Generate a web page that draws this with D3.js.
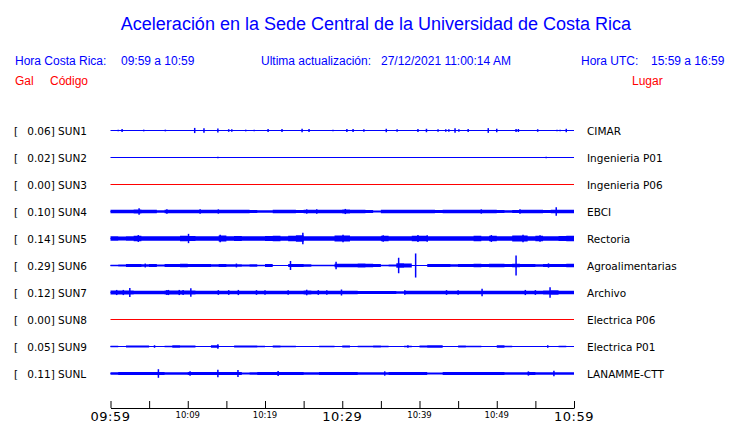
<!DOCTYPE html>
<html><head><meta charset="utf-8">
<script src="https://cdn.jsdelivr.net/npm/d3@7"></script>
<style>body{margin:0;background:#fff}svg{display:block}</style>
</head><body><svg id="c" width="740" height="423"></svg>
<script>
const title = "Aceleración en la Sede Central de la Universidad de Costa Rica";
const headerCR = ["Hora Costa Rica:", "09:59 a 10:59"];
const headerUpd = ["Ultima actualización:", "27/12/2021 11:00:14 AM"];
const headerUTC = ["Hora UTC:", "15:59 a 16:59"];
const colHeads = ["Gal", "Código", "Lugar"];

const codes  = ["SUN1","SUN2","SUN3","SUN4","SUN5","SUN6","SUN7","SUN8","SUN9","SUNL"];
const places = ["CIMAR","Ingenieria P01","Ingenieria P06","EBCI","Rectoria","Agroalimentarias","Archivo","Electrica P06","Electrica P01","LANAMME-CTT"];
const peaks  = [0.06,0.02,0.00,0.10,0.14,0.29,0.12,0.00,0.05,0.11];

// minutes after 09:59
const tickMinutes = [0,5,10,15,20,25,30,35,40,45,50,55,60];
const labelMinutes = [0,10,20,30,40,50,60];
const tickLabels = ["09:59","10:09","10:19","10:29","10:39","10:49","10:59"];
const majorLabels = ["09:59","10:29","10:59"];

// per-minute envelope (half amplitude, Gal)
const envFlat = [0,0,0,0,0,0,0,0,0,0,0,0,0,0,0,0,0,0,0,0,0,0,0,0,0,0,0,0,0,0,0,0,0,0,0,0,0,0,0,0,0,0,0,0,0,0,0,0,0,0,0,0,0,0,0,0,0,0,0,0];
const envSUN4 = [0.038,0.038,0.04,0.045,0.042,0.038,0.03,0.038,0.038,0.04,0.038,0.042,0.042,0.04,0.04,0.038,0.038,0.038,0.032,0.03,0.03,0.038,0.038,0.038,0.036,0.038,0.04,0.038,0.038,0.038,0.045,0.04,0.038,0.036,0.025,0.038,0.038,0.038,0.04,0.038,0.038,0.038,0.036,0.038,0.038,0.038,0.038,0.038,0.04,0.038,0.036,0.03,0.034,0.038,0.038,0.038,0.036,0.04,0.038,0.038];
const envSUN5 = [0.05,0.045,0.055,0.065,0.055,0.05,0.05,0.05,0.052,0.062,0.06,0.052,0.052,0.052,0.07,0.05,0.06,0.05,0.05,0.052,0.06,0.062,0.055,0.062,0.075,0.05,0.05,0.052,0.052,0.072,0.07,0.05,0.05,0.05,0.05,0.062,0.05,0.05,0.05,0.062,0.062,0.055,0.052,0.052,0.052,0.052,0.052,0.062,0.055,0.062,0.05,0.05,0.072,0.07,0.052,0.062,0.052,0.052,0.06,0.062];
const envSUN6 = [0.015,0.025,0.035,0.035,0.03,0.035,0.025,0.035,0.035,0.04,0.035,0.035,0.035,0.03,0.035,0.03,0.03,0.025,0.03,0.02,0.035,0.01,0.01,0.035,0.035,0.03,0.02,0.015,0.02,0.04,0.04,0.04,0.045,0.04,0.035,0.02,0.025,0.05,0.045,0.01,0.01,0.035,0.035,0.035,0.03,0.035,0.035,0.04,0.035,0.04,0.04,0.035,0.04,0.035,0.035,0.03,0.035,0.035,0.035,0.04];
const envSUN7 = [0.047,0.047,0.047,0.043,0.043,0.043,0.043,0.045,0.045,0.045,0.045,0.043,0.043,0.043,0.043,0.043,0.043,0.043,0.043,0.043,0.043,0.043,0.043,0.043,0.043,0.045,0.043,0.043,0.043,0.043,0.043,0.04,0.032,0.032,0.032,0.032,0.035,0.03,0.043,0.043,0.043,0.043,0.043,0.043,0.043,0.043,0.043,0.043,0.043,0.043,0.043,0.043,0.043,0.043,0.043,0.043,0.045,0.05,0.043,0.043];
const envSUN9 = [0.015,0.01,0.025,0.025,0.025,0.01,0,0.015,0.03,0.025,0.025,0,0,0.03,0.01,0.01,0.025,0.025,0.025,0.02,0.01,0.025,0.02,0.015,0.01,0,0,0.02,0.015,0,0.025,0.01,0.015,0.015,0.025,0.02,0,0.01,0.02,0.01,0.025,0.03,0.03,0,0.01,0.025,0.02,0.015,0,0,0.03,0.02,0,0,0,0,0.01,0,0.02,0];
const envSUNL = [0.03,0.037,0.037,0.037,0.037,0.037,0.035,0.03,0.03,0.03,0.035,0.035,0.035,0.035,0.035,0.035,0.035,0.025,0.03,0.035,0.035,0.035,0.035,0.035,0.035,0.03,0.03,0.035,0.035,0.035,0.035,0.035,0.03,0.03,0.03,0.03,0.035,0.035,0.035,0.035,0.035,0.025,0.025,0.035,0.035,0.035,0.035,0.035,0.035,0.035,0.035,0.03,0.03,0.03,0.035,0.028,0.028,0.028,0.028,0.028];

// isolated peaks [minute, half amplitude Gal]
const spkSUN1 = [[1.0,0.02],[1.5,0.035],[4.3,0.02],[7.1,0.02],[10.9,0.06],[12.1,0.05],[13.9,0.045],[15.3,0.03],[15.7,0.03],[17.5,0.02],[18.6,0.02],[20.4,0.035],[22.2,0.035],[24.8,0.04],[25.7,0.035],[28.8,0.02],[30.6,0.035],[31.4,0.035],[32.8,0.03],[35.7,0.04],[37.1,0.03],[39.8,0.035],[40.9,0.04],[42.4,0.03],[43.4,0.03],[43.8,0.03],[44.6,0.05],[45.1,0.03],[46.3,0.035],[48.9,0.055],[50.0,0.04],[52.5,0.035],[52.8,0.035],[55.3,0.03],[57.8,0.02],[58.2,0.02],[59.0,0.04]];
const spkSUN2 = [[13.9,0.02],[56.4,0.015]];
const spkSUN3 = [];
const spkSUN4 = [[3.7,0.075],[7.3,0.05],[11.6,0.05],[13.96,0.05],[25.4,0.05],[26.7,0.05],[30.4,0.06],[48.0,0.05],[53.0,0.05],[57.7,0.10]];
const spkSUN5 = [[3.6,0.08],[10.1,0.108],[14.2,0.09],[24.9,0.135],[30.1,0.09],[35.3,0.075],[39.8,0.08],[41.0,0.075],[49.3,0.08],[53.4,0.09],[55.6,0.075]];
const spkSUN6 = [[4.5,0.045],[16.3,0.045],[23.3,0.105],[29.2,0.09],[37.3,0.18],[39.5,0.28],[52.5,0.23],[56.7,0.05]];
const spkSUN7 = [[0.8,0.06],[1.66,0.06],[2.5,0.105],[7.3,0.06],[7.5,0.06],[8.9,0.06],[9.4,0.06],[10.4,0.097],[13.96,0.055],[15.3,0.055],[16.55,0.06],[18.9,0.055],[20.0,0.055],[23.0,0.055],[25.4,0.065],[26.9,0.055],[28.0,0.055],[29.9,0.07],[38.1,0.055],[43.5,0.055],[45.0,0.055],[48.1,0.085],[53.7,0.06],[55.0,0.055],[56.9,0.12]];
const spkSUN8 = [];
const spkSUN9 = [[13.9,0.055],[5.7,0.03],[38.5,0.03],[56.6,0.03]];
const spkSUNL = [[6.2,0.1],[10.3,0.05],[13.9,0.085],[16.5,0.08],[21.7,0.06],[35.5,0.05],[54.1,0.05],[57.4,0.065]];

const envs = [envFlat, envFlat, envFlat, envSUN4, envSUN5, envSUN6, envSUN7, envFlat, envSUN9, envSUNL];
const spks = [spkSUN1, spkSUN2, spkSUN3, spkSUN4, spkSUN5, spkSUN6, spkSUN7, spkSUN8, spkSUN9, spkSUNL];

const svg = d3.select("#c");
const BLUE = "#0000ff", RED = "#ff0000";
const HF = "'Liberation Sans', Arial, Helvetica, sans-serif";
const LF = "'DejaVu Sans', sans-serif";

// header
svg.append("text").attr("x", 376).attr("y", 30).attr("text-anchor", "middle")
  .attr("font-family", HF).attr("font-size", 18).attr("fill", BLUE).text(title);
const hdr = [[15, headerCR[0]],[121, headerCR[1]],[261, headerUpd[0]],[381, headerUpd[1]],[581, headerUTC[0]],[651, headerUTC[1]]];
svg.selectAll(".hdr").data(hdr).join("text").attr("class","hdr")
  .attr("x", d => d[0]).attr("y", 65).attr("font-family", HF).attr("font-size", 12)
  .attr("fill", BLUE).text(d => d[1]);
const ch = [[15, colHeads[0]],[50, colHeads[1]],[632, colHeads[2]]];
svg.selectAll(".ch").data(ch).join("text").attr("class","ch")
  .attr("x", d => d[0]).attr("y", 85).attr("font-family", HF).attr("font-size", 12)
  .attr("fill", RED).text(d => d[1]);

// scales
const x = d3.scaleLinear().domain([0, 60]).range([110.5, 574]);
const y = d3.scalePoint().domain(codes).range([130, 373]);
const amp = d3.scaleLinear().domain([0, 0.1]).range([0, 4.3]);

const rows = svg.selectAll(".row").data(codes).join("g").attr("class","row")
  .attr("transform", d => `translate(0,${y(d) + 0.5})`);

rows.each(function(code, i) {
  const g = d3.select(this);
  const col = peaks[i] === 0 ? RED : BLUE;
  g.append("text").attr("x", 14).attr("y", 4).attr("font-family", LF).attr("font-size", 10.5)
    .attr("fill", "#000").text("[");
  g.append("text").attr("x", 27.3).attr("y", 4).attr("font-family", LF).attr("font-size", 10.5)
    .attr("fill", "#000").text(peaks[i].toFixed(2) + "] " + code);
  g.append("text").attr("x", 587).attr("y", 4).attr("font-family", LF).attr("font-size", 10.5)
    .attr("fill", "#000").text(places[i]);
  g.append("line").attr("x1", x(0)).attr("x2", x(60)).attr("y1", 0).attr("y2", 0)
    .attr("stroke", col).attr("stroke-width", 1.2);
  const env = envs[i];
  const pts = env.map((v, k) => [k, v]).concat([[60, env[env.length - 1]]]);
  const area = d3.area().curve(d3.curveStepAfter)
    .x(d => x(d[0])).y0(d => -amp(d[1])).y1(d => amp(d[1]));
  g.append("path").attr("d", area(pts)).attr("fill", col);
  g.selectAll(".spk").data(spks[i]).join("line").attr("class","spk")
    .attr("x1", d => x(d[0])).attr("x2", d => x(d[0]))
    .attr("y1", d => -amp(d[1])).attr("y2", d => amp(d[1]))
    .attr("stroke", col).attr("stroke-width", 1.5);
});

// time axis
const axis = d3.axisBottom(x).tickValues(tickMinutes).tickSizeInner(-7).tickSizeOuter(0).tickFormat("");
const ax = svg.append("g").attr("transform", "translate(0,408)").call(axis);
ax.select(".domain").attr("stroke", "#000");
ax.selectAll(".tick line").attr("stroke", "#000");
svg.selectAll(".tl").data(labelMinutes).join("text").attr("class","tl")
  .attr("x", d => x(d)).attr("text-anchor", "middle").attr("font-family", LF)
  .attr("y", (d, k) => majorLabels.includes(tickLabels[k]) ? 421 : 418)
  .attr("font-size", (d, k) => majorLabels.includes(tickLabels[k]) ? 13 : 8.5)
  .attr("letter-spacing", (d, k) => majorLabels.includes(tickLabels[k]) ? 0.5 : 0)
  .attr("fill", "#000").text((d, k) => tickLabels[k]);
</script>
</body></html>
